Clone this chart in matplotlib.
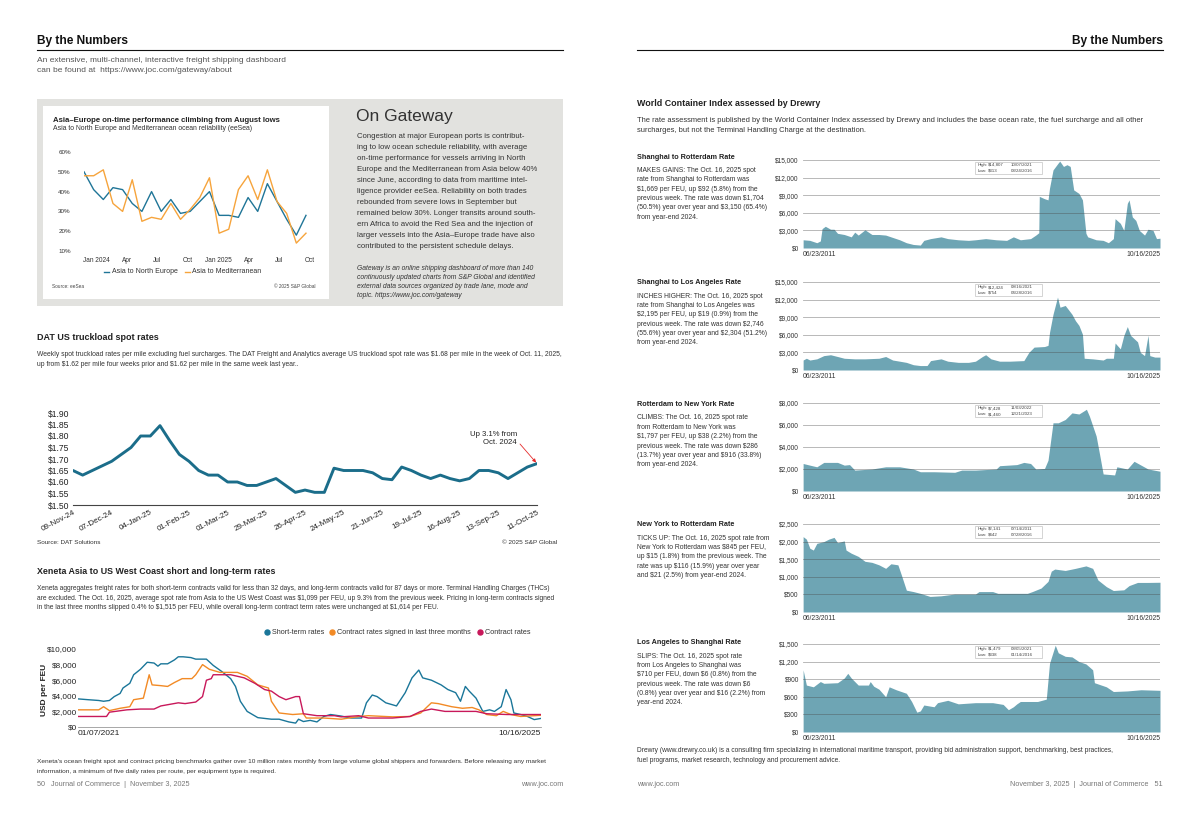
import matplotlib
matplotlib.use('Agg')
import matplotlib.pyplot as plt
from matplotlib.patches import Rectangle
from matplotlib.lines import Line2D
import pandas as pd

plt.rcParams['font.family'] = ['Liberation Sans', 'DejaVu Sans']

# ---------------- data: Asia-Europe reliability (eeSea), monthly ----------------
ne_reliability = [50, 41, 36, 42, 41, 34, 30, 40, 30, 36, 29, 30, 35, 40, 28, 28, 27, 37, 30, 44, 35, 26, 18, 28]
med_reliability = [48, 48, 51, 34, 30, 46, 25, 27, 26, 34, 26, 31, 37, 47, 19, 21, 41, 48, 36, 51, 35, 29, 14, 19]
rel_tick_labels = ['Jan 2024', 'Apr', 'Jul', 'Oct', 'Jan 2025', 'Apr', 'Jul', 'Oct']

# ---------------- data: DAT truckload spot rate, weekly ----------------
dat_weeks = pd.date_range('2024-11-09', '2025-10-11', freq='7D')
dat_rate = [1.65, 1.63, 1.65, 1.67, 1.69, 1.72, 1.75, 1.80, 1.80, 1.845,
            1.78, 1.72, 1.69, 1.65, 1.63, 1.63, 1.60, 1.60, 1.585, 1.585,
            1.60, 1.615, 1.585, 1.555, 1.565, 1.555, 1.555, 1.66, 1.65, 1.65,
            1.65, 1.64, 1.615, 1.61, 1.665, 1.65, 1.63, 1.615, 1.63, 1.615,
            1.605, 1.615, 1.65, 1.65, 1.64, 1.615, 1.64, 1.665, 1.68]

# ---------------- data: Xeneta Asia - USWC (decimal year, USD/FEU) ----------------
short_t = [2021.02, 2021.12, 2021.23, 2021.28, 2021.34, 2021.39, 2021.45, 2021.48, 2021.55, 2021.59,
           2021.66, 2021.73, 2021.80, 2021.84, 2021.87, 2021.94, 2022.01, 2022.05, 2022.10, 2022.18,
           2022.23, 2022.34, 2022.41, 2022.50, 2022.59, 2022.64, 2022.69, 2022.76, 2022.87, 2023.01,
           2023.09, 2023.19, 2023.26, 2023.29, 2023.34, 2023.41, 2023.48, 2023.55, 2023.62, 2023.73,
           2023.83, 2023.94, 2023.99, 2024.05, 2024.10, 2024.19, 2024.30, 2024.39, 2024.46, 2024.53,
           2024.57, 2024.66, 2024.76, 2024.83, 2024.91, 2024.96, 2025.01, 2025.05, 2025.12, 2025.19,
           2025.26, 2025.31, 2025.38, 2025.43, 2025.48, 2025.51, 2025.58, 2025.65, 2025.72, 2025.79]
short_rate = [3600, 3500, 3400, 3300, 3400, 3900, 4300, 5000, 5600, 6700,
              7400, 8300, 8200, 7800, 8100, 8100, 8600, 9000, 9000, 8900,
              8700, 8700, 7900, 7100, 6200, 5200, 3300, 2000, 1200, 1000,
              1000, 650, 500, 1000, 700, 850, 650, 1350, 1600, 1400,
              1150, 1150, 3100, 4100, 3900, 3100, 2700, 4400, 6300, 7300,
              6300, 6000, 5400, 4800, 4400, 3300, 5200, 4600, 3700, 2000,
              2200, 2000, 2600, 4800, 3500, 1800, 1600, 1350, 950, 1100]
signed_t = [2021.02, 2021.23, 2021.28, 2021.34, 2021.45, 2021.55, 2021.59, 2021.69, 2021.75, 2021.78,
            2021.87, 2021.94, 2022.01, 2022.09, 2022.19, 2022.23, 2022.30, 2022.37, 2022.48, 2022.66,
            2022.76, 2022.87, 2022.98, 2023.01, 2023.09, 2023.23, 2023.34, 2023.37, 2023.55, 2023.73,
            2023.91, 2024.01, 2024.26, 2024.44, 2024.55, 2024.66, 2024.73, 2024.87, 2024.98, 2025.08,
            2025.15, 2025.23, 2025.33, 2025.40, 2025.48, 2025.58, 2025.79]
signed_rate = [2200, 2200, 2600, 2100, 2400, 2600, 3500, 3700, 6700, 5400,
               5300, 5200, 5700, 6200, 6200, 6700, 8000, 7400, 7000, 7000,
               6500, 5400, 5000, 3300, 1800, 1600, 1700, 1150, 1150, 1000,
               1350, 1450, 1300, 1350, 1800, 3100, 3000, 2600, 2400, 2500,
               2200, 1600, 1450, 2000, 1600, 1350, 1500]
contract_t = [2021.02, 2021.31, 2021.34, 2021.52, 2021.66, 2021.80, 2021.87, 2022.05, 2022.12, 2022.23,
              2022.30, 2022.34, 2022.39, 2022.41, 2022.59, 2022.73, 2022.84, 2022.94, 2023.01, 2023.09,
              2023.16, 2023.26, 2023.30, 2023.34, 2023.48, 2023.66, 2023.73, 2023.91, 2024.01, 2024.26,
              2024.44, 2024.55, 2024.66, 2024.80, 2025.12, 2025.23, 2025.44, 2025.79]
contract_rate = [1350, 1350, 1900, 2200, 2300, 2300, 2700, 3100, 3000, 3200,
                 3900, 6000, 6200, 6700, 6700, 6300, 5600, 4800, 4600, 3900,
                 3500, 3900, 3900, 1700, 1450, 1450, 1300, 1450, 1150, 1150,
                 1350, 2000, 2300, 2000, 2000, 1700, 1600, 1600]

# ---------------- data: Drewry WCI lanes (decimal year, USD/FEU) ----------------
sha_rtm_t = [2011.48, 2011.75, 2012.03, 2012.17, 2012.24, 2012.37, 2012.58, 2012.72, 2012.86, 2013.13,
             2013.41, 2013.55, 2013.69, 2013.96, 2014.24, 2014.52, 2014.79, 2015.07, 2015.35, 2015.62,
             2015.90, 2016.18, 2016.32, 2016.59, 2017.01, 2017.28, 2017.70, 2018.11, 2018.39, 2018.80,
             2019.22, 2019.64, 2019.91, 2020.19, 2020.60, 2020.81, 2020.93, 2020.95, 2021.16, 2021.30,
             2021.36, 2021.50, 2021.71, 2021.77, 2021.92, 2022.06, 2022.19, 2022.33, 2022.54, 2022.68,
             2022.82, 2022.89, 2023.23, 2023.51, 2023.72, 2023.92, 2023.99, 2024.20, 2024.34, 2024.48,
             2024.55, 2024.68, 2024.82, 2024.96, 2025.17, 2025.31, 2025.51, 2025.65, 2025.79]
sha_rtm_rate = [1400, 1300, 900, 1200, 3300, 3700, 3200, 3200, 2500, 2300,
                1900, 2700, 2200, 3100, 2300, 2300, 2200, 1800, 1400, 900,
                600, 500, 1300, 1600, 1900, 1600, 1400, 1300, 1400, 1600,
                1400, 1300, 1900, 1400, 1600, 2200, 2600, 8800, 8400, 8200,
                10200, 13300, 14500, 14807, 13900, 14200, 13900, 9900, 9300, 8200,
                2500, 1900, 1400, 1300, 900, 1600, 5000, 4200, 3000, 7600,
                8200, 5300, 4700, 3000, 2200, 3200, 3000, 1600, 1669]

sha_lax_t = [2011.48, 2011.61, 2011.75, 2012.03, 2012.31, 2012.58, 2012.86, 2013.13, 2013.55, 2013.96,
             2014.52, 2014.79, 2015.07, 2015.35, 2015.62, 2015.90, 2016.18, 2016.45, 2016.59, 2017.01,
             2017.28, 2017.70, 2018.11, 2018.39, 2018.67, 2018.80, 2019.01, 2019.36, 2019.77, 2020.33,
             2020.53, 2020.74, 2021.16, 2021.30, 2021.36, 2021.50, 2021.68, 2021.78, 2021.99, 2022.26,
             2022.40, 2022.54, 2022.68, 2022.75, 2023.09, 2023.51, 2023.64, 2023.92, 2023.99, 2024.20,
             2024.34, 2024.48, 2024.61, 2024.89, 2025.00, 2025.17, 2025.31, 2025.38, 2025.58, 2025.79]
sha_lax_rate = [1700, 2000, 1700, 1900, 2450, 2600, 2300, 2000, 1900, 1900,
                2000, 2300, 1700, 1500, 1300, 900, 754, 760, 1600, 1900,
                1500, 1300, 1300, 1500, 2300, 2600, 1900, 1500, 1500, 1600,
                3000, 3900, 4000, 4200, 6400, 9500, 12424, 10700, 11000, 9500,
                8400, 7600, 6100, 2000, 1900, 1700, 2000, 2000, 4600, 3600,
                5900, 7400, 5900, 4800, 3000, 2450, 5900, 2450, 2200, 2195]

rtm_nyc_t = [2011.48, 2011.75, 2012.03, 2012.31, 2012.86, 2013.13, 2013.34, 2013.55, 2014.24, 2014.79,
             2015.35, 2015.90, 2016.18, 2016.73, 2017.56, 2017.84, 2018.39, 2019.22, 2019.36, 2020.05,
             2020.33, 2020.60, 2020.81, 2021.16, 2021.30, 2021.50, 2021.71, 2021.99, 2022.26, 2022.54,
             2022.84, 2022.96, 2023.23, 2023.37, 2023.51, 2023.97, 2024.06, 2024.48, 2024.75, 2025.03,
             2025.31, 2025.79]
rtm_nyc_rate = [2500, 2350, 2200, 2600, 2600, 2350, 2400, 1900, 2000, 2200,
                2200, 2000, 1750, 1750, 1700, 1900, 1900, 2000, 2300, 2400,
                2600, 2500, 2000, 2050, 2800, 6200, 6200, 6500, 7100, 7000,
                7428, 6800, 5000, 3300, 1550, 1460, 2200, 2000, 2700, 2350,
                2000, 1797]

nyc_rtm_t = [2011.48, 2011.61, 2011.75, 2011.89, 2012.03, 2012.31, 2012.51, 2012.72, 2012.86, 2013.13,
             2013.20, 2013.41, 2013.69, 2013.96, 2014.24, 2014.52, 2014.79, 2015.00, 2015.28, 2015.42,
             2015.62, 2015.90, 2016.18, 2016.57, 2017.01, 2017.56, 2018.39, 2018.53, 2019.08, 2019.29,
             2019.77, 2020.47, 2020.67, 2021.02, 2021.30, 2021.43, 2021.57, 2021.99, 2022.40, 2022.82,
             2023.09, 2023.30, 2023.64, 2023.92, 2024.34, 2024.55, 2024.89, 2025.31, 2025.79]
nyc_rtm_rate = [2141, 2070, 1810, 1760, 1950, 2000, 2070, 2120, 1970, 2020,
                1760, 1670, 1580, 1440, 1410, 1340, 1240, 1370, 1340, 1050,
                620, 580, 530, 442, 460, 510, 510, 580, 580, 530,
                530, 530, 580, 680, 870, 1160, 1220, 1180, 1240, 1310,
                1240, 910, 720, 610, 630, 750, 840, 840, 845]

lax_sha_t = [2011.48, 2011.54, 2011.61, 2011.89, 2012.17, 2012.31, 2012.86, 2013.13, 2013.27, 2013.41,
             2013.69, 2014.10, 2014.17, 2014.31, 2014.52, 2014.79, 2014.93, 2015.21, 2015.62, 2015.83,
             2016.04, 2016.18, 2016.32, 2016.73, 2016.87, 2017.28, 2017.70, 2018.39, 2019.08, 2019.50,
             2019.71, 2019.91, 2020.05, 2020.19, 2020.88, 2021.23, 2021.36, 2021.59, 2021.71, 2021.99,
             2022.26, 2022.54, 2022.82, 2023.09, 2023.16, 2023.64, 2023.92, 2024.48, 2025.03, 2025.79]
lax_sha_rate = [1060, 940, 800, 770, 860, 830, 840, 920, 1000, 920,
                800, 800, 860, 780, 730, 600, 770, 720, 660, 520,
                338, 360, 460, 430, 500, 540, 480, 500, 500, 470,
                380, 430, 480, 520, 520, 560, 1170, 1479, 1350, 1290,
                1280, 1200, 1160, 1060, 840, 770, 690, 700, 720, 710]

# ---------------- page helpers (pixel coordinates, y from top) ----------------
W, H = 1200, 816
fig = plt.figure(figsize=(12, 8.16), dpi=100)
fig.patch.set_facecolor('white')


def fx(x):
    return x / W


def fy(y):
    return 1 - y / H


def text(x, y, s, size, color='#222222', **kw):
    kw.setdefault('va', 'center')
    fig.text(fx(x), fy(y), s, fontsize=size, color=color, parse_math=False, **kw)


def para(x, y, lines, size, step, **kw):
    for i, ln in enumerate(lines):
        text(x, y + i * step, ln, size, **kw)


def rect(x0, y0, x1, y1, **kw):
    kw.setdefault('zorder', -5)
    fig.add_artist(Rectangle((fx(x0), fy(y1)), (x1 - x0) / W, (y1 - y0) / H,
                             transform=fig.transFigure, **kw))


def hline(x0, x1, y, **kw):
    fig.add_artist(Line2D([fx(x0), fx(x1)], [fy(y), fy(y)], transform=fig.transFigure, **kw))


def axes(x0, y0, x1, y1):
    ax = fig.add_axes([fx(x0), fy(y1), (x1 - x0) / W, (y1 - y0) / H])
    ax.patch.set_alpha(0)
    for s in ax.spines.values():
        s.set_visible(False)
    ax.tick_params(length=0)
    return ax


# ================= LEFT PAGE =================
text(37, 41, 'By the Numbers', 8.6, color='#111111', weight='bold')
hline(37, 563, 49.5, color='#111111', lw=0.8)
para(37, 60, ['An extensive, multi-channel, interactive freight shipping dashboard',
              'can be found at  https://www.joc.com/gateway/about'], 6.0, 10.5, color='#555555')

# Gateway box
rect(37, 99, 563, 306, facecolor='#e2e2df', edgecolor='none', zorder=-6)
rect(43, 106, 329, 299, facecolor='white', edgecolor='none')
text(356, 116, 'On Gateway', 12.5, color='#333333')
para(357, 137, ['Congestion at major European ports is contribut-',
                'ing to low ocean schedule reliability, with average',
                'on-time performance for vessels arriving in North',
                'Europe and the Mediterranean from Asia below 40%',
                'since June, according to data from maritime intel-',
                'ligence provider eeSea. Reliability on both trades',
                'rebounded from severe lows in September but',
                'remained below 30%. Longer transits around south-',
                'ern Africa to avoid the Red Sea and the injection of',
                'larger vessels into the Asia\u2013Europe trade have also',
                'contributed to the persistent schedule delays.'], 5.6, 10.97, color='#333333')
para(357, 268.5, ['Gateway is an online shipping dashboard of more than 140',
                  'continuously updated charts from S&P Global and identified',
                  'external data sources organized by trade lane, mode and',
                  'topic. https://www.joc.com/gateway'], 4.9, 8.9, color='#333333', style='italic')

text(53, 121, 'Asia\u2013Europe on-time performance climbing from August lows', 5.6, color='#222222', weight='bold')
text(53, 129, 'Asia to North Europe and Mediterranean ocean reliability (eeSea)', 4.95, color='#333333')

ax = axes(84, 152, 310.8, 251)
ax.plot(range(len(ne_reliability)), ne_reliability, color='#1f7597', lw=1.0)
ax.plot(range(len(med_reliability)), med_reliability, color='#f6a43c', lw=1.0)
ax.set_xlim(0, 23.5)
ax.set_ylim(10, 60)
ax.set_yticks(range(10, 61, 10))
ax.set_yticklabels([f'{v}%' for v in range(10, 61, 10)])
ax.set_xticks([1.3 + 3.15 * k for k in range(len(rel_tick_labels))])
ax.set_xticklabels(rel_tick_labels)
ax.tick_params(axis='y', labelsize=4.5, labelcolor='#333333', pad=9.5)
ax.tick_params(axis='x', labelsize=4.7, labelcolor='#333333', pad=4)

hline(104, 109, 272, color='#1f7597', lw=1.0)
text(112, 272, 'Asia to North Europe', 5.0, color='#333333')
hline(185, 190, 272, color='#f6a43c', lw=1.0)
text(192, 272, 'Asia to Mediterranean', 5.0, color='#333333')
text(52, 286, 'Source: eeSea', 3.4, color='#444444')
text(316, 286, '\u00a9 2025 S&P Global', 3.4, color='#444444', ha='right')

# DAT truckload chart
text(37, 337, 'DAT US truckload spot rates', 6.5, color='#222222', weight='bold')
para(37, 354, ['Weekly spot truckload rates per mile excluding fuel surcharges. The DAT Freight and Analytics average US truckload spot rate was $1.68 per mile in the week of Oct. 11, 2025,',
               'up from $1.62 per mile four weeks prior and $1.62 per mile in the same week last year..'],
     4.87, 10.3, color='#333333')

ax = axes(73, 413, 537, 505)
ax.plot(dat_weeks, dat_rate, color='#1b6d8a', lw=2.1, solid_capstyle='round')
ax.set_xlim(dat_weeks[0], dat_weeks[-1])
ax.set_ylim(1.50, 1.90)
ax.spines['bottom'].set_visible(True)
ax.spines['bottom'].set_color('#444444')
ax.spines['bottom'].set_linewidth(0.8)
yt = [1.50 + 0.05 * k for k in range(9)]
ax.set_yticks(yt)
ax.set_yticklabels([f'${v:.2f}' for v in yt])
ax.set_xticks(dat_weeks[::4])
ax.set_xticklabels([d.strftime('%d-%b-%y') for d in dat_weeks[::4]], rotation=28,
                   ha='right', rotation_mode='anchor')
ax.tick_params(axis='y', labelsize=6.2, labelcolor='#222222', pad=2.5)
ax.tick_params(axis='x', labelsize=5.8, labelcolor='#222222', pad=3)
ax.annotate('', xy=(dat_weeks[-1], dat_rate[-1]), xytext=(fx(520), fy(444)),
            textcoords='figure fraction',
            arrowprops=dict(arrowstyle='-|>', color='#e52b2b', lw=0.6, mutation_scale=5,
                            shrinkA=0, shrinkB=1))
text(517, 434, 'Up 3.1% from', 5.6, color='#222222', ha='right')
text(517, 443, 'Oct. 2024', 5.6, color='#222222', ha='right')
text(37, 543, 'Source: DAT Solutions', 4.6, color='#333333')
text(557, 543, '\u00a9 2025 S&P Global', 4.6, color='#333333', ha='right')

# Xeneta chart
text(37, 572, 'Xeneta Asia to US West Coast short and long-term rates', 6.4, color='#222222', weight='bold')
para(37, 588.5, ['Xeneta aggregates freight rates for both short-term contracts valid for less than 32 days, and long-term contracts valid for 87 days or more. Terminal Handling Charges (THCs)',
                 'are excluded. The Oct. 16, 2025, average spot rate from Asia to the US West Coast was $1,099 per FEU, up 9.3% from the previous week. Pricing in long-term contracts signed',
                 'in the last three months slipped 0.4% to $1,515 per FEU, while overall long-term contract term rates were unchanged at $1,614 per FEU.'],
     4.76, 9.7, color='#333333')

teal, orange, crimson = '#1a7699', '#f28a25', '#c8185a'
for cx, col, lab in [(267, teal, 'Short-term rates'),
                     (332, orange, 'Contract rates signed in last three months'),
                     (480, crimson, 'Contract rates')]:
    fig.add_artist(Line2D([fx(cx)], [fy(632)], marker='o', ms=3.6, color=col, transform=fig.transFigure))
    text(cx + 5, 632, lab, 5.2, color='#333333')

ax = axes(78, 649, 541, 727)
ax.plot(short_t, short_rate, color=teal, lw=1.0)
ax.plot(signed_t, signed_rate, color=orange, lw=1.0)
ax.plot(contract_t, contract_rate, color=crimson, lw=1.0)
ax.set_xlim(2021.016, 2025.79)
ax.set_ylim(0, 10000)
ax.spines['bottom'].set_visible(True)
ax.spines['bottom'].set_color('#999999')
ax.spines['bottom'].set_linewidth(0.6)
ax.set_yticks(range(0, 10001, 2000))
ax.set_yticklabels([f'${v:,}' for v in range(0, 10001, 2000)])
ax.set_xticks([2021.016, 2025.79])
ax.set_xticklabels(['01/07/2021', '10/16/2025'])
ax.get_xticklabels()[0].set_horizontalalignment('left')
ax.get_xticklabels()[1].set_horizontalalignment('right')
ax.tick_params(axis='y', labelsize=5.9, labelcolor='#222222', pad=0.8)
ax.tick_params(axis='x', labelsize=6.0, labelcolor='#222222', pad=2.5)
text(45, 690, 'USD per FEU', 6.0, color='#222222', weight='bold', rotation=90, ha='center')

para(37, 761, ["Xeneta's ocean freight spot and contract pricing benchmarks gather over 10 million rates monthly from large volume global shippers and forwarders. Before releasing any market",
               'information, a minimum of five daily rates per route, per equipment type is required.'],
     4.68, 10, color='#333333')
text(37, 784.5, '50   Journal of Commerce  |  November 3, 2025', 5.2, color='#777777')
text(563, 784.5, 'www.joc.com', 5.2, color='#777777', ha='right')

# ================= RIGHT PAGE =================
text(1163, 41, 'By the Numbers', 8.6, color='#111111', weight='bold', ha='right')
hline(637, 1163, 49.5, color='#111111', lw=0.8)
text(637, 103, 'World Container Index assessed by Drewry', 6.4, color='#222222', weight='bold')
para(637, 120, ['The rate assessment is published by the World Container Index assessed by Drewry and includes the base ocean rate, the fuel surcharge and all other',
                'surcharges, but not the Terminal Handling Charge at the destination.'], 5.45, 10, color='#333333')

panel_titles = ['Shanghai to Rotterdam Rate', 'Shanghai to Los Angeles Rate', 'Rotterdam to New York Rate',
                'New York to Rotterdam Rate', 'Los Angeles to Shanghai Rate']
panel_notes = [
    ['MAKES GAINS: The Oct. 16, 2025 spot', 'rate from Shanghai to Rotterdam was',
     '$1,669 per FEU, up $92 (5.8%) from the', 'previous week. The rate was down $1,704',
     '(50.5%) year over year and $3,150 (65.4%)', 'from year-end 2024.'],
    ['INCHES HIGHER: The Oct. 16, 2025 spot', 'rate from Shanghai to Los Angeles was',
     '$2,195 per FEU, up $19 (0.9%) from the', 'previous week. The rate was down $2,746',
     '(55.6%) year over year and $2,304 (51.2%)', 'from year-end 2024.'],
    ['CLIMBS: The Oct. 16, 2025 spot rate', 'from Rotterdam to New York was',
     '$1,797 per FEU, up $38 (2.2%) from the', 'previous week. The rate was down $286',
     '(13.7%) year over year and $916 (33.8%)', 'from year-end 2024.'],
    ['TICKS UP: The Oct. 16, 2025 spot rate from', 'New York to Rotterdam was $845 per FEU,',
     'up $15 (1.8%) from the previous week. The', 'rate was up $116 (15.9%) year over year',
     'and $21 (2.5%) from year-end 2024.'],
    ['SLIPS: The Oct. 16, 2025 spot rate', 'from Los Angeles to Shanghai was',
     '$710 per FEU, down $6 (0.8%) from the', 'previous week. The rate was down $6',
     '(0.8%) year over year and $16 (2.2%) from', 'year-end 2024.'],
]
panel_high = [('$14,807', '10/07/2021'), ('$12,424', '09/16/2021'), ('$7,428', '11/03/2022'),
              ('$2,141', '07/14/2011'), ('$1,479', '08/05/2021')]
panel_low = [('$313', '03/24/2016'), ('$754', '04/28/2016'), ('$1,460', '12/21/2023'),
             ('$442', '07/28/2016'), ('$338', '01/14/2016')]
panel_series = [(sha_rtm_t, sha_rtm_rate), (sha_lax_t, sha_lax_rate), (rtm_nyc_t, rtm_nyc_rate),
                (nyc_rtm_t, nyc_rtm_rate), (lax_sha_t, lax_sha_rate)]
panel_ymax = [15000, 15000, 8000, 2500, 1500]
panel_ystep = [3000, 3000, 2000, 500, 300]
panel_top = [160, 282, 403, 524, 644]
panel_title_y = [157.5, 283, 405, 525, 643]

for i in range(5):
    top = panel_top[i]
    text(637, panel_title_y[i], panel_titles[i], 5.2, color='#222222', weight='bold')
    para(637, panel_title_y[i] + 13, panel_notes[i], 4.9, 9.35, color='#333333')

    ax = axes(803, top, 1160, top + 88)
    t, v = panel_series[i]
    ax.fill_between(t, v, 0, color='#6ea5b4', lw=0, zorder=1)
    ax.set_xlim(2011.475, 2025.79)
    ax.set_ylim(0, panel_ymax[i])
    ticks = list(range(0, panel_ymax[i] + 1, panel_ystep[i]))
    ax.set_yticks(ticks)
    ax.set_yticklabels([f'${v:,}' for v in ticks])
    ax.grid(axis='y', color='#4a4a4a', alpha=0.45, lw=0.6)
    ax.set_axisbelow(False)
    ax.set_xticks([2011.475, 2025.79])
    ax.set_xticklabels(['06/23/2011', '10/16/2025'])
    ax.get_xticklabels()[0].set_horizontalalignment('left')
    ax.get_xticklabels()[1].set_horizontalalignment('right')
    ax.tick_params(axis='y', labelsize=4.7, labelcolor='#333333', pad=3)
    ax.tick_params(axis='x', labelsize=4.9, labelcolor='#333333', pad=2)

    # high / low box
    rect(975, top + 2, 1042, top + 14, facecolor='white', edgecolor='#c4c4c4', lw=0.5, zorder=5)
    for j, (lab, pair) in enumerate([('High:', panel_high[i]), ('Low:', panel_low[i])]):
        yy = top + 5 + j * 6
        text(977.5, yy, lab, 3.2, color='#444444', zorder=6)
        text(988, yy, pair[0], 3.2, color='#444444', zorder=6)
        text(1011, yy, pair[1], 3.2, color='#444444', zorder=6)

para(637, 751, ['Drewry (www.drewry.co.uk) is a consulting firm specializing in international maritime transport, providing bid administration support, benchmarking, best practices,',
                'fuel programs, market research, technology and procurement advice.'], 4.8, 10, color='#333333')
text(637, 784.5, 'www.joc.com', 5.2, color='#777777')
text(1163, 784.5, 'November 3, 2025  |  Journal of Commerce   51', 5.2, color='#777777', ha='right')

fig.savefig('out.png', dpi=100, facecolor='white')
